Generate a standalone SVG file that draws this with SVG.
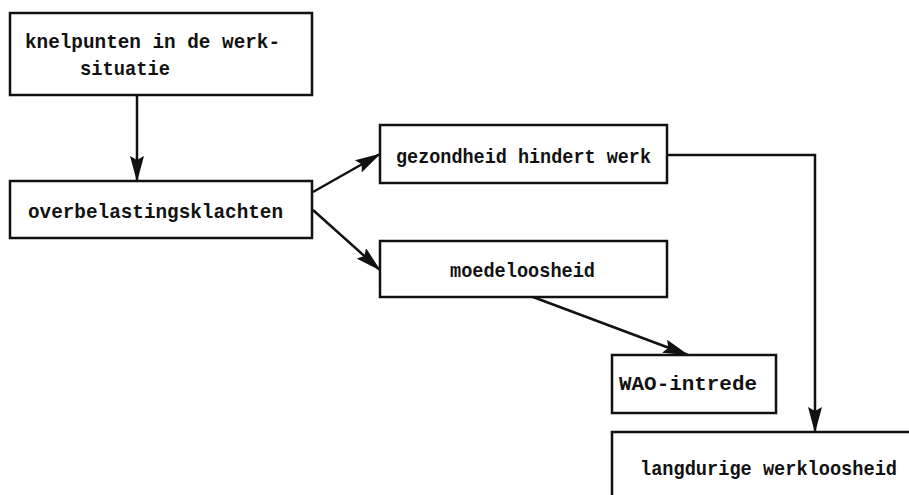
<svg xmlns="http://www.w3.org/2000/svg" width="909" height="495" viewBox="0 0 909 495">
  <style>
    .box { fill: #ffffff; stroke: #111111; stroke-width: 2.5; }
    .lbl { font-family: "Liberation Mono", "DejaVu Sans Mono", monospace; font-weight: bold; font-size: 21px; fill: #111111; }
    .edge { fill: none; stroke: #111111; stroke-width: 2.5; }
  </style>
  <defs>
    <marker id="arrow" viewBox="0 0 26 14" refX="25" refY="7" markerWidth="26" markerHeight="14" markerUnits="userSpaceOnUse" orient="auto">
      <path d="M0,0 L26,7 L0,14 L4,7 Z" fill="#111111"/>
    </marker>
  </defs>
  <rect width="909" height="495" fill="#ffffff"/>

  <g id="edges">
    <line class="edge" x1="137" y1="95" x2="137" y2="181" marker-end="url(#arrow)"/>
    <line class="edge" x1="313" y1="192" x2="380" y2="154" marker-end="url(#arrow)"/>
    <line class="edge" x1="313" y1="210" x2="380" y2="270" marker-end="url(#arrow)"/>
    <line class="edge" x1="533" y1="297" x2="688" y2="355" marker-end="url(#arrow)"/>
    <polyline class="edge" points="667,155 815,155 815,432" marker-end="url(#arrow)"/>
  </g>

  <g id="knelpunten">
    <rect class="box" x="10" y="13" width="302" height="82"/>
    <text class="lbl" x="25" y="48" textLength="255" lengthAdjust="spacingAndGlyphs">knelpunten in de werk-</text>
    <text class="lbl" x="80" y="75" textLength="90" lengthAdjust="spacingAndGlyphs">situatie</text>
  </g>

  <g id="overbelasting">
    <rect class="box" x="10" y="181" width="302" height="57"/>
    <text class="lbl" x="28" y="218" textLength="255" lengthAdjust="spacingAndGlyphs">overbelastingsklachten</text>
  </g>

  <g id="gezondheid">
    <rect class="box" x="380" y="125" width="287" height="58"/>
    <text class="lbl" x="396" y="163" textLength="255" lengthAdjust="spacingAndGlyphs">gezondheid hindert werk</text>
  </g>

  <g id="moedeloosheid">
    <rect class="box" x="380" y="241" width="287" height="56"/>
    <text class="lbl" x="450" y="277" textLength="145" lengthAdjust="spacingAndGlyphs">moedeloosheid</text>
  </g>

  <g id="wao">
    <rect class="box" x="612" y="355" width="164" height="58"/>
    <text class="lbl" x="619" y="390" textLength="138" lengthAdjust="spacingAndGlyphs">WAO-intrede</text>
  </g>

  <g id="werkloosheid">
    <rect class="box" x="612" y="432" width="320" height="100"/>
    <text class="lbl" x="640" y="475" textLength="257" lengthAdjust="spacingAndGlyphs">langdurige werkloosheid</text>
  </g>
</svg>
